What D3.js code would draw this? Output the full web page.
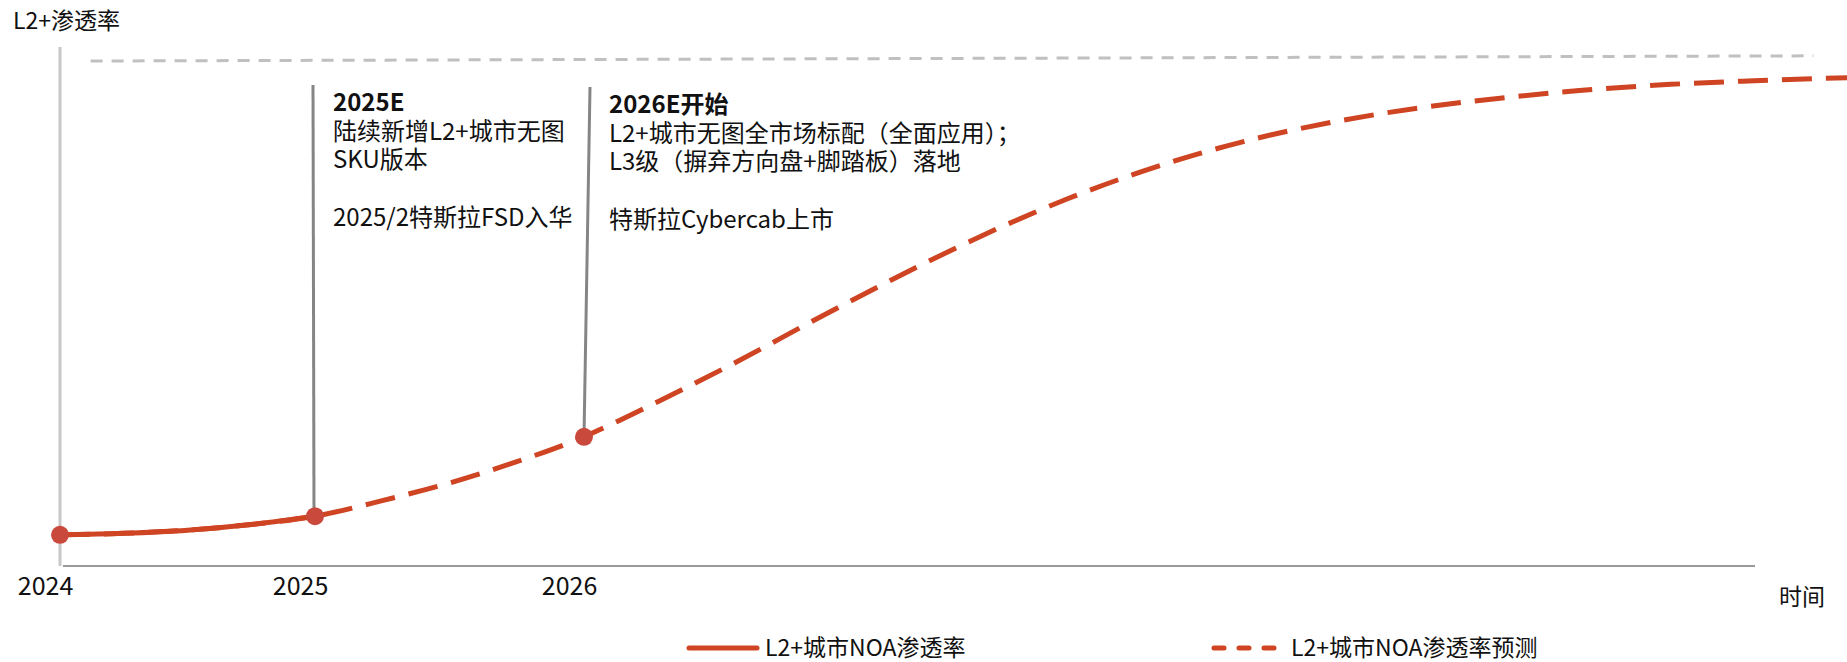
<!DOCTYPE html>
<html>
<head>
<meta charset="utf-8">
<script src="https://cdn.jsdelivr.net/npm/d3@7"></script>
<style>
  html, body { margin: 0; padding: 0; background: #fff; }
  svg { display: block; }
  text { font-family: "Noto Sans CJK SC", "Noto Sans", sans-serif; fill: #111; }
</style>
</head>
<body>
<svg id="chart" width="1847" height="662"></svg>
<script>
// ---- data ----
const tickYears = [2024, 2025, 2026];
const tickLabels = ["2024", "2025", "2026"];
const actualYears = [2024, 2024.25, 2024.5, 2024.75, 2025];
const actualValues = [6.0, 6.3, 6.9, 8.0, 9.6];
const forecastYears = [2024, 2024.25, 2024.5, 2024.75, 2025, 2025.25, 2025.5, 2025.75, 2026, 2026.13, 2026.28, 2026.57, 2026.85, 2027.15, 2027.3, 2027.55, 2027.8, 2028.04, 2028.29, 2028.54, 2028.78, 2029.11, 2029.38, 2029.7, 2030.04, 2030.35, 2030.7];
const forecastValues = [6.0, 6.3, 6.9, 8.0, 9.6, 12.6, 16.0, 20.1, 24.9, 28.0, 31.8, 39.4, 47.2, 55.3, 59.2, 65.3, 70.8, 75.4, 79.5, 82.9, 85.5, 88.3, 90.0, 91.6, 92.8, 93.5, 94.1];
const milestoneYears = [2024, 2025, 2026];
const milestoneValues = [6.0, 9.6, 24.9];
const ceilingYears = [2024.12, 2030.57];
const ceilingValues = [97.3, 98.3];
const yTitle = "L2+渗透率";
const xTitle = "时间";
const seriesNames = ["L2+城市NOA渗透率", "L2+城市NOA渗透率预测"];
const notes = [
  { year: 2025, head: "2025E", lines: ["陆续新增L2+城市无图", "SKU版本", "", "2025/2特斯拉FSD入华"] },
  { year: 2026, head: "2026E开始", lines: ["L2+城市无图全市场标配（全面应用）；", "L3级（摒弃方向盘+脚踏板）落地", "", "特斯拉Cybercab上市"] }
];

// ---- layout ----
const svg = d3.select("#chart");
const red = "#cf4422";
const dotRed = "#c94a3c";

const x = d3.scaleLinear().domain([2024, 2025, 2026]).range([60, 315, 584]);
const y = d3.scaleLinear().domain([0, 100]).range([566, 47]);

// y axis line
svg.append("line").attr("x1", 60).attr("x2", 60).attr("y1", y(100)).attr("y2", y(0))
  .attr("stroke", "#c8c8c8").attr("stroke-width", 3);
// x axis line
svg.append("line").attr("x1", 63).attr("x2", 1755).attr("y1", y(0)).attr("y2", y(0))
  .attr("stroke", "#9a9a9a").attr("stroke-width", 2);

// x tick labels via axis
const xAxis = d3.axisBottom(x).tickValues(tickYears).tickSize(0)
  .tickFormat((d, i) => tickLabels[i]);
const gx = svg.append("g").attr("transform", `translate(-15,${y(0) + 8})`).call(xAxis);
gx.select(".domain").remove();
gx.selectAll("text").style("font-family", '"Noto Sans CJK SC", sans-serif')
  .style("font-size", "25px").attr("fill", "#111").attr("dy", "0.71em");

// titles
svg.append("text").attr("x", 13).attr("y", 29).style("font-size", "23px").text(yTitle);
svg.append("text").attr("x", 1779).attr("y", 605).style("font-size", "23px").text(xTitle);

// ceiling dashed
const ceil = ceilingYears.map((t, i) => [t, ceilingValues[i]]);
svg.append("path").datum(ceil)
  .attr("d", d3.line().x(d => x(d[0])).y(d => y(d[1])))
  .attr("fill", "none").attr("stroke", "#c0c0c0").attr("stroke-width", 3)
  .attr("stroke-dasharray", "12,9");

// annotation vertical lines
const topY = [85, 87];
const topDx = [-2, 6];
notes.forEach((n, i) => {
  const mi = milestoneYears.indexOf(n.year);
  svg.append("line")
    .attr("x1", x(n.year) + topDx[i]).attr("y1", topY[i])
    .attr("x2", x(n.year) - 1 + (i === 1 ? 1 : 0)).attr("y2", y(milestoneValues[mi]))
    .attr("stroke", "#858585").attr("stroke-width", 3);
});

// forecast dashed line
const fData = forecastYears.map((t, i) => [t, forecastValues[i]]);
const line = d3.line().x(d => x(d[0])).y(d => y(d[1])).curve(d3.curveMonotoneX);
svg.append("path").datum(fData).attr("d", line)
  .attr("fill", "none").attr("stroke", red).attr("stroke-width", 5)
  .attr("stroke-dasharray", "30,14");

// actual solid line
const aData = actualYears.map((t, i) => [t, actualValues[i]]);
svg.append("path").datum(aData).attr("d", line)
  .attr("fill", "none").attr("stroke", red).attr("stroke-width", 5);

// milestone dots
svg.selectAll("circle.m").data(milestoneYears).enter().append("circle")
  .attr("cx", d => x(d)).attr("cy", (d, i) => y(milestoneValues[i]))
  .attr("r", 9).attr("fill", dotRed);

// annotation text
const textX = [333, 609];
const headY = [111, 113];
notes.forEach((n, i) => {
  const t = svg.append("text").attr("x", textX[i]).attr("y", headY[i]).style("font-size", "24px");
  t.append("tspan").attr("x", textX[i]).style("font-weight", "bold").text(n.head);
  n.lines.forEach(l => {
    t.append("tspan").attr("x", textX[i]).attr("dy", 28.7).text(l === "" ? "\u00a0" : l);
  });
});

// legend
const ly = 648;
svg.append("line").attr("x1", 689).attr("x2", 757).attr("y1", ly).attr("y2", ly)
  .attr("stroke", red).attr("stroke-width", 5).attr("stroke-linecap", "round");
svg.append("text").attr("x", 765).attr("y", ly).attr("dy", "0.36em").style("font-size", "23px").text(seriesNames[0]);
svg.append("line").attr("x1", 1214).attr("x2", 1284).attr("y1", ly).attr("y2", ly)
  .attr("stroke", red).attr("stroke-width", 5).attr("stroke-linecap", "round")
  .attr("stroke-dasharray", "10,15");
svg.append("text").attr("x", 1291).attr("y", ly).attr("dy", "0.36em").style("font-size", "23px").text(seriesNames[1]);
</script>
</body>
</html>
